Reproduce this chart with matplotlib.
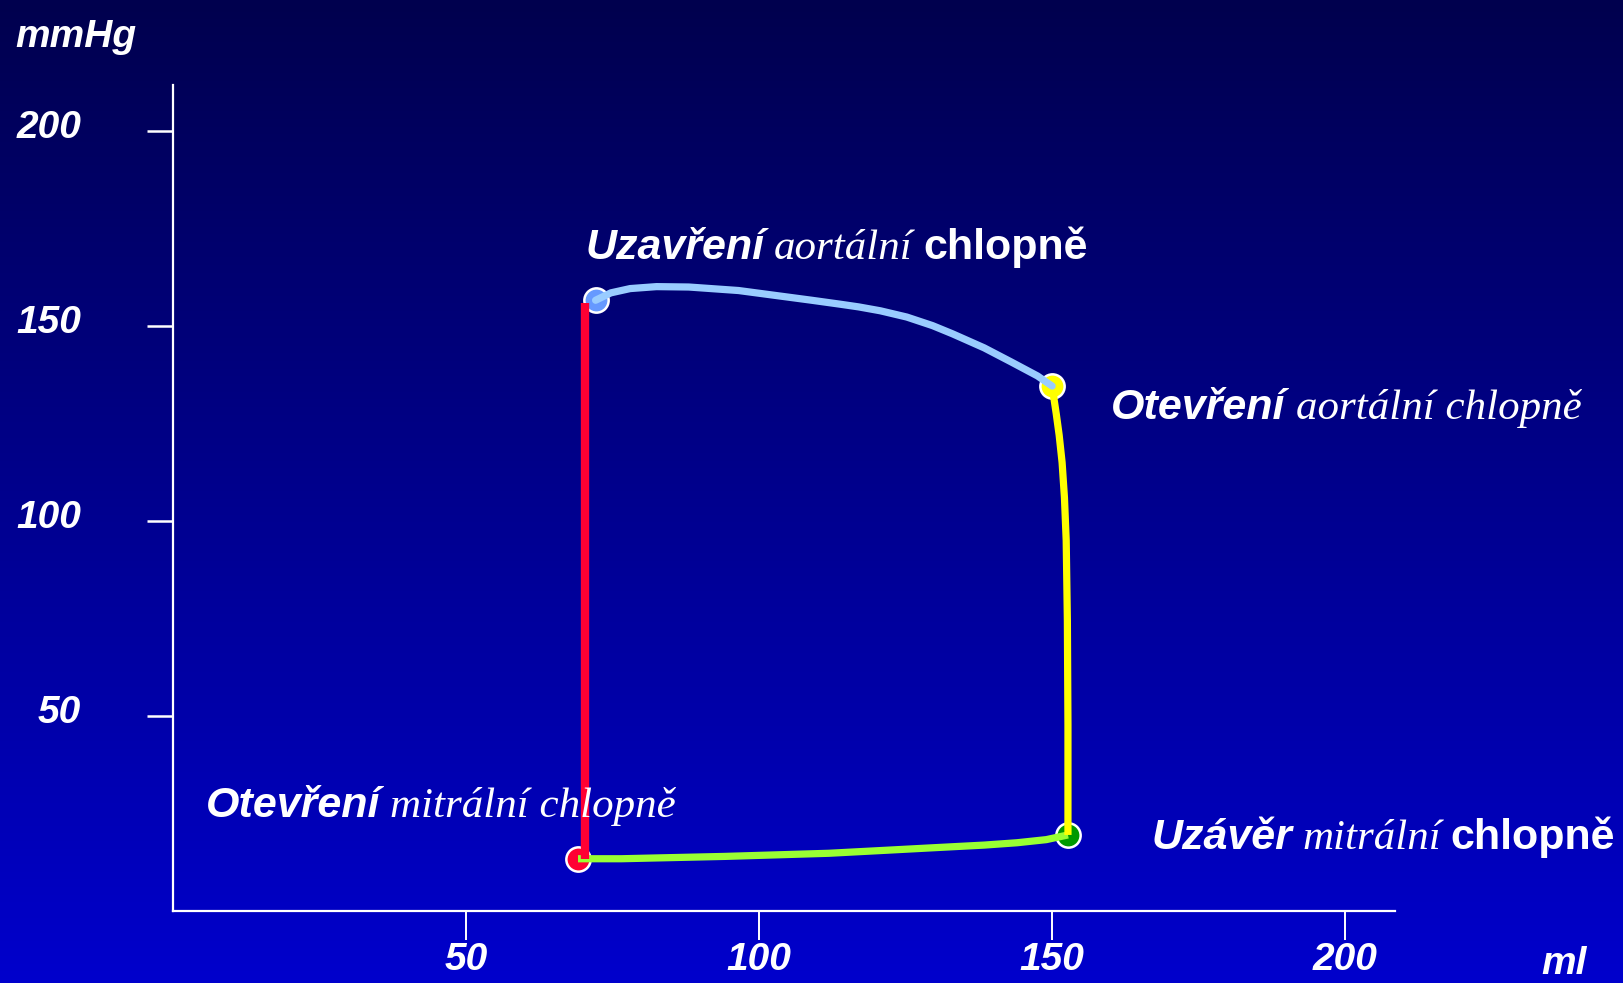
import numpy as np
import matplotlib
matplotlib.use("Agg")
import matplotlib.pyplot as plt
from matplotlib.colors import LinearSegmentedColormap
from matplotlib.transforms import ScaledTranslation

# pressure-volume loop (ml, mmHg)
fillVol = [69.1, 76.5, 94.2, 111.9, 122.0, 129.5, 138.4, 144.0, 149.0, 152.7]
fillP = [13.4, 13.4, 14.0, 14.8, 15.6, 16.2, 16.9, 17.5, 18.3, 19.5]

contractVol = [152.7, 152.7, 152.7, 152.6, 152.4, 152.1, 151.7, 151.2, 150.7, 150.3, 150.0]
contractP = [19.5, 21.1, 47.7, 74.4, 95.0, 106.0, 115.0, 122.0, 127.5, 131.5, 134.6]

ejectVol = [150.0, 147.5, 143.0, 138.4, 133.0, 129.6, 125.2, 120.7, 117.0, 113.8, 109.0,
            104.0, 96.5, 88.0, 82.5, 78.0, 74.7, 72.1]
ejectP = [134.6, 137.2, 140.8, 144.4, 148.0, 150.1, 152.3, 153.9, 154.9, 155.6, 156.6,
          157.6, 159.1, 160.0, 160.1, 159.6, 158.5, 156.6]

relaxVol = [70.3, 70.3]
relaxP = [156.0, 13.4]

# valve events: (volume, pressure)
mitralOpen = (69.1, 13.4)
mitralClose = (152.7, 19.5)
aorticOpen = (150.0, 134.6)
aorticClose = (72.1, 156.6)

xTicks = [50, 100, 150, 200]
yTicks = [50, 100, 150, 200]

W, H = 1624, 983
SANS = "Liberation Sans"
SERIF = "Liberation Serif"

fig = plt.figure(figsize=(W / 100, H / 100), dpi=100)

# background gradient
bg = fig.add_axes([0, 0, 1, 1])
grad = np.linspace(0, 1, 256).reshape(-1, 1)
cmap = LinearSegmentedColormap.from_list("bg", ["#00004e", "#0000cc"])
bg.imshow(grad, aspect="auto", cmap=cmap, extent=[0, 1, 0, 1], origin="upper")
bg.set_axis_off()

ax = fig.add_axes([173 / W, 72 / H, (1395 - 173) / W, (911 - 85) / H])
ax.set_facecolor("none")
ax.set_xlim(0, 208.5)
ax.set_ylim(0, 211.8)

for side in ["top", "right"]:
    ax.spines[side].set_visible(False)
for side in ["left", "bottom"]:
    ax.spines[side].set_color("white")
    ax.spines[side].set_linewidth(1.6)

ax.set_xticks(xTicks)
ax.set_yticks(yTicks)
ax.set_xticklabels([str(v) for v in xTicks])
ax.set_yticklabels([str(v) for v in yTicks])
ax.tick_params(axis="x", direction="out", length=21, width=1.4, color="white", pad=1)
ax.tick_params(axis="y", direction="out", length=19, width=1.8, color="white", pad=47)
for lab in ax.get_xticklabels() + ax.get_yticklabels():
    lab.set_fontfamily(SANS)
    lab.set_fontweight("bold")
    lab.set_fontstyle("italic")
    lab.set_fontsize(28)
    lab.set_color("white")
for lab in ax.get_yticklabels():
    lab.set_transform(lab.get_transform() + ScaledTranslation(0, 0.07, fig.dpi_scale_trans))

# event markers under the lines
for (vx, vy), col in [(mitralOpen, "#ff0033"), (mitralClose, "#009900"),
                      (aorticOpen, "#ffff00"), (aorticClose, "#6699ff")]:
    ax.plot(vx, vy, "o", ms=17.5, mfc=col, mec="white", mew=1.8, zorder=3, clip_on=False)

ax.plot(fillVol, fillP, color="#99ff33", lw=5.2, solid_capstyle="butt",
        solid_joinstyle="round", zorder=4)
ax.plot(contractVol, contractP, color="#ffff00", lw=5.2, solid_capstyle="butt",
        solid_joinstyle="round", zorder=4)
ax.plot(ejectVol, ejectP, color="#99ccff", lw=5.2, solid_capstyle="round",
        solid_joinstyle="round", zorder=4)
ax.plot(relaxVol, relaxP, color="#ff0033", lw=6, solid_capstyle="butt", zorder=5)

fig.text(15 / W, 1 - 47 / H, "mmHg", family=SANS, weight="bold", style="italic",
         size=28, color="white", va="baseline", ha="left")
fig.text(1564 / W, 9 / H, "ml", family=SANS, weight="bold", style="italic",
         size=28, color="white", va="baseline", ha="center")

renderer = fig.canvas.get_renderer()


def drawLabel(x, y, pieces, size=31, gap=10):
    """pieces: list of (text, family, weight, style), placed one after another on a baseline"""
    px, py = ax.transData.transform((x, y))
    for s, fam, weight, style in pieces:
        t = ax.annotate(s, xy=(px, py), xycoords="figure pixels", family=fam,
                        weight=weight, style=style, size=size, color="white",
                        va="baseline", ha="left", annotation_clip=False, zorder=6)
        px = t.get_window_extent(renderer).x1 + gap


drawLabel(70.3, 167.2, [("Uzavření", SANS, "bold", "italic"),
                        ("aortální", SERIF, "normal", "italic"),
                        ("chlopně", SANS, "bold", "normal")])
drawLabel(160.1, 126.2, [("Otevření", SANS, "bold", "italic"),
                         ("aortální chlopně", SERIF, "normal", "italic")])
drawLabel(5.6, 24.1, [("Otevření", SANS, "bold", "italic"),
                      ("mitrální chlopně", SERIF, "normal", "italic")])
drawLabel(166.9, 15.9, [("Uzávěr", SANS, "bold", "italic"),
                        ("mitrální", SERIF, "normal", "italic"),
                        ("chlopně", SANS, "bold", "normal")])

fig.savefig("out.png", dpi=100)
